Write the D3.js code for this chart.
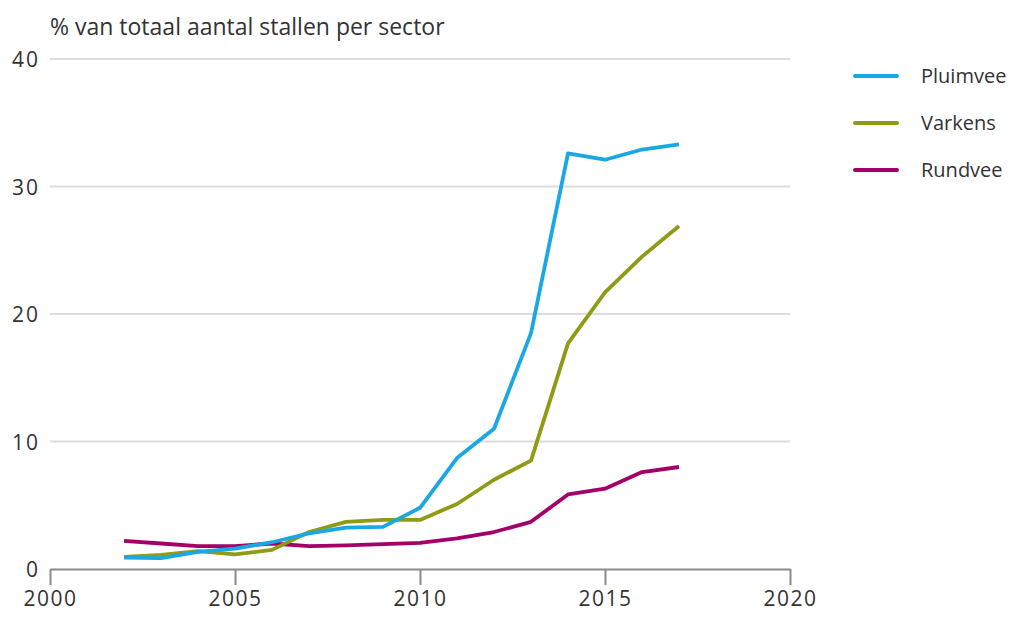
<!DOCTYPE html>
<html><head><meta charset="utf-8">
<script src="https://cdn.jsdelivr.net/npm/d3@7"></script>
<style>body{margin:0;background:#fff;} svg{display:block;font-family:"Open Sans","Noto Sans",sans-serif;}</style>
</head><body>
<svg id="c" width="1022" height="622"></svg>
<script>
const years = [2002,2003,2004,2005,2006,2007,2008,2009,2010,2011,2012,2013,2014,2015,2016,2017];
const pluimvee = [0.9,0.85,1.35,1.6,2.1,2.8,3.25,3.3,4.8,8.7,11.0,18.5,32.6,32.1,32.9,33.3];
const varkens  = [0.95,1.1,1.4,1.15,1.5,2.9,3.7,3.85,3.85,5.1,7.0,8.5,17.7,21.7,24.5,26.9];
const rundvee  = [2.2,2.0,1.8,1.8,2.0,1.8,1.85,1.95,2.05,2.4,2.9,3.7,5.85,6.3,7.6,8.0];
const seriesNames = ["Pluimvee","Varkens","Rundvee"];
const colors = ["#1aa7e2","#8f9b15","#a4006a"];
const yTicks = [0,10,20,30,40];
const xTicks = [2000,2005,2010,2015,2020];
const title = "% van totaal aantal stallen per sector";

const svg = d3.select("#c");
const x = d3.scaleLinear().domain([2000,2020]).range([50,790]);
const y = d3.scaleLinear().domain([0,40]).range([569,59]);

// gridlines
svg.append("g").selectAll("line").data(yTicks.filter(d=>d>0)).join("line")
  .attr("x1",x(2000)).attr("x2",x(2020)).attr("y1",d=>y(d)).attr("y2",d=>y(d))
  .attr("stroke","#dcdcdc").attr("stroke-width",2);

// y labels
svg.append("g").selectAll("text").data(yTicks).join("text")
  .attr("x",40).attr("y",d=>y(d)+8).attr("text-anchor","end")
  .attr("font-size",21).attr("letter-spacing",2).attr("fill","#333").text(d=>d);

// x axis
const xa = svg.append("g").attr("transform",`translate(0,${y(0)})`)
  .call(d3.axisBottom(x).tickValues(xTicks).tickFormat(d3.format("d")).tickSize(16).tickSizeOuter(0));
xa.select(".domain").attr("stroke","#8a8a8a").attr("stroke-width",2);
xa.selectAll(".tick line").attr("stroke","#8a8a8a").attr("stroke-width",2);
xa.selectAll(".tick text").attr("font-size",21).attr("letter-spacing",1.5).attr("fill","#333")
  .attr("y",22).attr("dy","0.71em")
  .attr("font-family","'Open Sans','Noto Sans',sans-serif");

// title
svg.append("text").attr("x",50).attr("y",35).attr("font-size",23).attr("fill","#333").text(title);

// lines
const data = [pluimvee,varkens,rundvee];
const line = d3.line().x((d,i)=>x(years[i])).y(d=>y(d));
svg.append("g").selectAll("path").data([2,1,0]).join("path")
  .attr("d",i=>line(data[i])).attr("fill","none").attr("stroke",i=>colors[i])
  .attr("stroke-width",3.8).attr("stroke-linejoin","round");

// legend
const lg = svg.append("g").selectAll("g").data(seriesNames).join("g")
  .attr("transform",(d,i)=>`translate(855,${76+i*47})`);
lg.append("line").attr("x1",0).attr("x2",42).attr("stroke",(d,i)=>colors[i]).attr("stroke-width",4).attr("stroke-linecap","round");
lg.append("text").attr("x",66).attr("y",7).attr("font-size",20).attr("fill","#333").text(d=>d);
</script>
</body></html>
